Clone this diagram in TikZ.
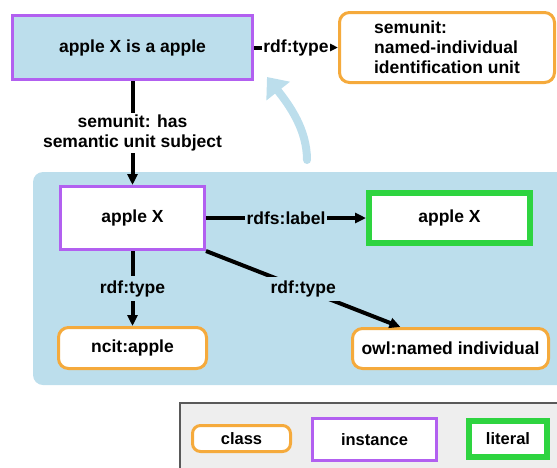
\documentclass[tikz,border=0pt]{standalone}
\usepackage{fontspec}
\setmainfont{Liberation Sans}
\usepackage{tikz}
\usetikzlibrary{
    positioning,
    arrows.meta
}

\definecolor{panelblue}{RGB}{188,222,236}
\definecolor{instpurple}{RGB}{178,96,240}
\definecolor{classorange}{RGB}{245,170,60}
\definecolor{litgreen}{RGB}{46,212,64}
\definecolor{legendgray}{RGB}{238,238,238}

\tikzset{
    >={Triangle[length=11pt,width=10pt]},
    every node/.style={
        font=\bfseries\fontsize{17.5}{20}\selectfont
    },
    instancebox/.style={
        draw=instpurple,
        line width=3pt,
        fill=white
    },
    classbox/.style={
        draw=classorange,
        line width=3pt,
        fill=white,
        rounded corners=10pt
    },
    literalbox/.style={
        draw=litgreen,
        line width=6pt,
        fill=white
    },
    edgelabel/.style={
        inner sep=1.5pt
    },
    legendfont/.style={
        font=\bfseries\fontsize{16.5}{19}\selectfont
    }
}

\begin{document}
\begin{tikzpicture}[
    x=1pt,
    y=1pt
]
    \useasboundingbox (0,0) rectangle (557,-467);

    % Fondos
    \fill[panelblue, rounded corners=10pt] (33,-172) rectangle (580,-385);
    \filldraw[fill=legendgray, draw=black!65, line width=1.5pt]
        (180,-403) rectangle (580,-490);

    % Nodos
    \node[instancebox, fill=panelblue, minimum width=240pt, minimum height=64pt]
        (statement) at (132.5,-47.5) {apple X is a apple};
    \node[classbox, align=left, minimum width=215pt, minimum height=70pt]
        (semtype) at (447,-47.5) {semunit:\\named-individual\\identification unit};

    \node[instancebox, minimum width=144pt, minimum height=63pt]
        (applex) at (132.5,-218) {apple X};
    \node[literalbox, minimum width=161pt, minimum height=50pt]
        (applexlit) at (449.5,-218) {apple X};
    \node[classbox, minimum width=148pt, minimum height=41pt]
        (ncit) at (132.5,-348) {ncit:apple};
    \node[classbox, minimum width=196pt, minimum height=40pt]
        (owl) at (450.5,-348.5) {owl:named individual};
    \path (owl.north) ++(-50,0) coordinate (owlin);

    % Flecha azul
    \coordinate (bendstart) at (307,-160);
    \coordinate (bendend)   at (267,-77);
    \draw[panelblue, line width=8pt, line cap=round,
          -{Triangle[length=18pt,width=29pt]}]
        (bendstart) .. controls (307,-130) and (290,-106) .. (bendend);

    % Aristas
    \path[->, line width=4pt]

        % statement
        (statement)
            edge node[edgelabel, fill=white] {rdf:type} (semtype)
            edge node[edgelabel, fill=white, align=center]
                {semunit: has\\semantic unit subject} (applex)

        % apple X
        (applex)
            edge node[edgelabel, fill=panelblue] {rdfs:label} (applexlit)
            edge node[edgelabel, fill=panelblue, inner sep=4pt] {rdf:type} (ncit)
        (applex.south east)
            edge node[edgelabel, fill=panelblue, inner sep=4pt] {rdf:type} (owlin);

    % Leyenda
    \node[classbox, legendfont, rounded corners=8pt,
          minimum width=98pt, minimum height=26pt]
        (legclass) at (241.5,-438.5) {class};
    \node[instancebox, legendfont, minimum width=124pt, minimum height=42pt]
        (leginst) at (374.5,-439.5) {instance};
    \node[literalbox, legendfont, minimum width=78pt, minimum height=36pt]
        (leglit) at (508,-439) {literal};

\end{tikzpicture}
\end{document}
